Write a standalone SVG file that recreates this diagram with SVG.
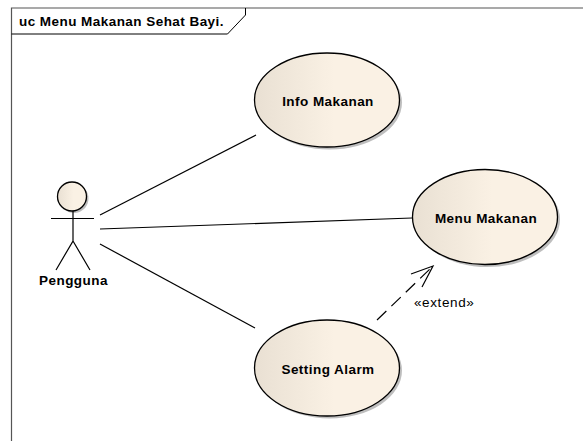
<svg xmlns="http://www.w3.org/2000/svg" width="583" height="441" viewBox="0 0 583 441">
<style>
text{font-family:"Liberation Sans",Arial,sans-serif;fill:#000}
.b{font-size:13.500px;font-weight:bold;text-anchor:middle;letter-spacing:.45px}
.u{fill:url(#g);stroke:#000;stroke-width:1.300}
.s{fill:#a8a8a8;stroke:none;opacity:.75}
.l{fill:none;stroke:#000;stroke-width:1.200}
</style>
<defs><linearGradient id="g" x1="0" x2="1" y1="0" y2="0"><stop offset="0" stop-color="#e9e0d3"/><stop offset=".55" stop-color="#faf1e4"/><stop offset="1" stop-color="#faf1e4"/></linearGradient></defs>
<rect width="583" height="441" fill="#fff"/>
<g id="frame">
<path d="M11.500 441V8H583" fill="none" stroke="#555" stroke-width="1.200"/>
<path d="M11.500 34H227.500L245.500 15V8" fill="none" stroke="#000" stroke-width="1"/>
<text x="19" y="26" font-size="13.500" font-weight="bold" letter-spacing=".45">uc Menu Makanan Sehat Bayi.</text>
</g>
<g id="connectors">
<path class="l" d="M100 215L256 135"/>
<path class="l" d="M100 229L412 218"/>
<path class="l" d="M100 244L255 328"/>
<path class="l" stroke-dasharray="13 7" d="M377 320L433 266"/>
<path class="l" d="M411 274L433 266L422 287"/>
<text x="414" y="307" font-size="13.500" letter-spacing=".6">«extend»</text>
</g>
<g id="actor-pengguna">
<circle class="s" cx="74" cy="198.500" r="14.500"/>
<circle class="u" cx="72" cy="196.500" r="14.500"/>
<path class="l" d="M51 218.500H94M73 211V241L56 270M73 241L90 270"/>
<text class="b" x="73.500" y="284.500">Pengguna</text>
</g>
<g id="usecase-info">
<ellipse class="s" cx="329.500" cy="102.500" rx="72.500" ry="47"/>
<ellipse class="u" cx="327" cy="100" rx="72.500" ry="47"/>
<text class="b" x="328" y="106">Info Makanan</text>
</g>
<g id="usecase-menu">
<ellipse class="s" cx="487.500" cy="219.500" rx="72.500" ry="47.500"/>
<ellipse class="u" cx="485" cy="217" rx="72.500" ry="47.500"/>
<text class="b" x="486" y="223">Menu Makanan</text>
</g>
<g id="usecase-setting">
<ellipse class="s" cx="329.500" cy="370.500" rx="72.500" ry="48"/>
<ellipse class="u" cx="327" cy="368" rx="72.500" ry="48"/>
<text class="b" x="328" y="374">Setting Alarm</text>
</g>
</svg>
